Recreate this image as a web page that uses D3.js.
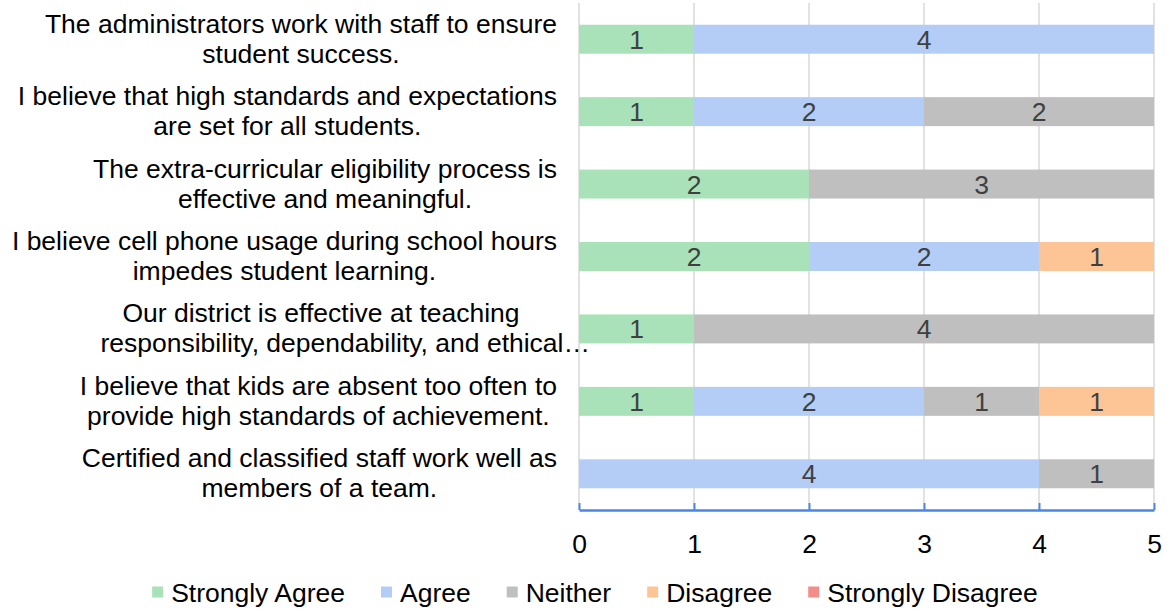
<!DOCTYPE html>
<html>
<head>
<meta charset="utf-8">
<script src="https://cdn.jsdelivr.net/npm/d3@7"></script>
<style>
  body { margin: 0; background: #fff; }
  svg { font-family: "Liberation Sans", Arial, sans-serif; }
</style>
</head>
<body>
<div id="my_dataviz"></div>
<script>
var categories = [
  "The administrators work with staff to ensure\nstudent success.",
  "I believe that high standards and expectations\nare set for all students.",
  "The extra-curricular eligibility process is\neffective and meaningful.",
  "I believe cell phone usage during school hours\nimpedes student learning.",
  "Our district is effective at teaching\nresponsibility, dependability, and ethical\u2026",
  "I believe that kids are absent too often to\nprovide high standards of achievement.",
  "Certified and classified staff work well as\nmembers of a team."
];
var seriesNames = ["Strongly Agree", "Agree", "Neither", "Disagree", "Strongly Disagree"];
var stronglyAgree    = [1, 1, 2, 2, 1, 1, 0];
var agree            = [4, 2, 0, 2, 0, 2, 4];
var neither          = [0, 2, 3, 0, 4, 1, 1];
var disagree         = [0, 0, 0, 1, 0, 1, 0];
var stronglyDisagree = [0, 0, 0, 0, 0, 0, 0];
var xTicks = [0, 1, 2, 3, 4, 5];

var colors = ["#a9e2b8", "#b4cdf7", "#bfbfbf", "#fdc596", "#f28e87"];

var W = 1167, H = 611;
var plotLeft = 579, plotRight = 1154, plotTop = 3, plotBottom = 510;
var fontSize = 26.5;

var svg = d3.select("#my_dataviz")
  .append("svg")
  .attr("width", W)
  .attr("height", H);

var rows = categories.map(function(c, i) {
  var r = { cat: c };
  r[seriesNames[0]] = stronglyAgree[i];
  r[seriesNames[1]] = agree[i];
  r[seriesNames[2]] = neither[i];
  r[seriesNames[3]] = disagree[i];
  r[seriesNames[4]] = stronglyDisagree[i];
  return r;
});

var x = d3.scaleLinear().domain([0, 5]).range([plotLeft, plotRight]);
var y = d3.scaleBand()
  .domain(categories)
  .range([plotTop, plotBottom])
  .paddingInner(0.6)
  .paddingOuter(0.3);

// gridlines
svg.append("g")
  .selectAll("line")
  .data(xTicks)
  .enter()
  .append("line")
  .attr("x1", function(d) { return x(d); })
  .attr("x2", function(d) { return x(d); })
  .attr("y1", plotTop)
  .attr("y2", plotBottom)
  .attr("stroke", "#d9d9d9")
  .attr("stroke-width", 1.5);

var stack = d3.stack().keys(seriesNames)(rows);

var layers = svg.append("g")
  .selectAll("g")
  .data(stack)
  .enter()
  .append("g")
  .attr("fill", function(d, i) { return colors[i]; });

layers.selectAll("rect")
  .data(function(d) { return d; })
  .enter()
  .append("rect")
  .attr("x", function(d) { return x(d[0]); })
  .attr("width", function(d) { return x(d[1]) - x(d[0]); })
  .attr("y", function(d) { return y(d.data.cat); })
  .attr("height", y.bandwidth());

layers.selectAll("text")
  .data(function(d) { return d.filter(function(p) { return p[1] - p[0] > 0; }); })
  .enter()
  .append("text")
  .attr("x", function(d) { return (x(d[0]) + x(d[1])) / 2; })
  .attr("y", function(d) { return y(d.data.cat) + y.bandwidth() / 2; })
  .attr("dy", "0.36em")
  .attr("text-anchor", "middle")
  .attr("fill", "#404040")
  .attr("font-size", fontSize)
  .text(function(d) { return d[1] - d[0]; });

// x axis
var xAxis = svg.append("g")
  .attr("transform", "translate(0," + plotBottom + ")")
  .call(d3.axisBottom(x).tickValues(xTicks).tickFormat(d3.format("d"))
    .tickSizeInner(-7).tickSizeOuter(0).tickPadding(24));
xAxis.select(".domain").attr("stroke", "#4a86e8").attr("stroke-width", 2.5);
xAxis.selectAll(".tick line").attr("stroke", "#4a86e8").attr("stroke-width", 2);
xAxis.selectAll(".tick text")
  .attr("font-size", fontSize)
  .attr("font-family", "Liberation Sans, Arial, sans-serif")
  .attr("fill", "#000");

// category labels: block right-aligned, lines centered in block
var labelRight = 557, lineGap = 30;
var labels = svg.append("g")
  .selectAll("g")
  .data(categories)
  .enter()
  .append("g");

labels.each(function(c) {
  var g = d3.select(this);
  var lines = c.split("\n");
  var cy = y(c) + y.bandwidth() / 2 - 1;
  var texts = lines.map(function(line, j) {
    return g.append("text")
      .attr("y", cy + (j - (lines.length - 1) / 2) * lineGap)
      .attr("dy", "0.36em")
      .attr("text-anchor", "middle")
      .attr("font-size", fontSize)
      .attr("fill", "#000")
      .text(line);
  });
  var widths = texts.map(function(t) { return t.node().getComputedTextLength(); });
  var bw = d3.max(widths);
  var right = lines[1] && lines[1].slice(-1) === "\u2026" ? 590 : labelRight;
  texts.forEach(function(t, j) {
    var cx = right - bw / 2;
    if (right !== labelRight && j === 0) cx = 321;
    t.attr("x", cx);
  });
});

// legend
var legend = svg.append("g");
var lx = 0;
seriesNames.forEach(function(name, i) {
  var g = legend.append("g");
  g.append("rect").attr("x", 0).attr("y", -5.5).attr("width", 11).attr("height", 11).attr("fill", colors[i]);
  var t = g.append("text")
    .attr("x", 19)
    .attr("dy", "0.36em")
    .attr("font-size", fontSize)
    .attr("fill", "#000")
    .text(name);
  var w = 19 + t.node().getComputedTextLength();
  g.attr("transform", "translate(" + lx + ",0)");
  lx += w + 36;
});
var totalW = lx - 36;
legend.attr("transform", "translate(" + (595 - totalW / 2) + ",592)");
</script>
</body>
</html>
